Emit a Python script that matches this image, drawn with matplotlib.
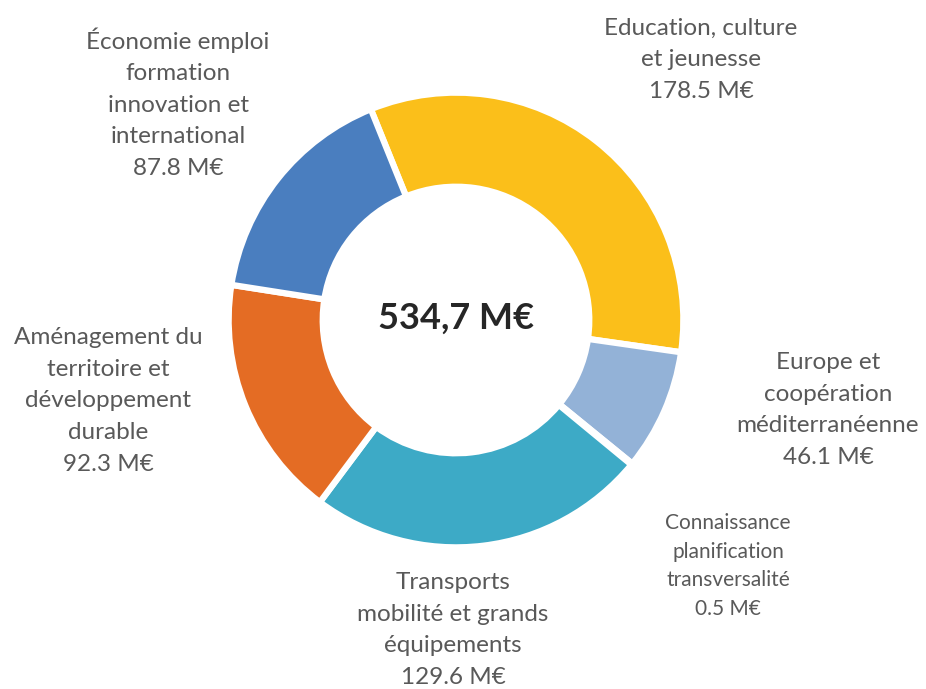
import matplotlib.pyplot as plt

plt.rcParams['font.family'] = ['Lato', 'DejaVu Sans']

# budget per domain (M€), clockwise from the top
labels = ["Education, culture\net jeunesse",
          "Europe et\ncoopération\nméditerranéenne",
          "Connaissance\nplanification\ntransversalité",
          "Transports\nmobilité et grands\néquipements",
          "Aménagement du\nterritoire et\ndéveloppement\ndurable",
          "Économie emploi\nformation\ninnovation et\ninternational"]
values = [178.5, 46.1, 0.5, 129.6, 92.3, 87.8]
colors = ["#FBBF1A", "#93B2D7", "#A5A5A5", "#3DAAC6", "#E46C24", "#4A7EBF"]
total_txt = "534,7 M€"

# label anchor positions in pixels (x, y from top)
lab_pos = [(701, 60), (828, 410), (728, 566), (453, 630), (108, 401), (178, 103)]
lab_size = [17.5, 17.5, 15, 17.5, 17.5, 17.5]
lab_space = [1.62, 1.62, 1.55, 1.62, 1.62, 1.62]

W, H = 926, 689
R = 224.0
cx, cy = 456, 320

fig = plt.figure(figsize=(W / 100, H / 100), dpi=100)
ax = fig.add_axes([0, 0, 1, 1])

ax.pie(values, colors=colors, startangle=112, counterclock=False,
       radius=1.015, wedgeprops=dict(width=0.42, edgecolor='white', linewidth=4.5))

ax.set_xlim(-cx / R, (W - cx) / R)
ax.set_ylim(-(H - cy) / R, cy / R)
ax.set_aspect('equal')
ax.axis('off')

for lab, v, (px, py), fs, ls in zip(labels, values, lab_pos, lab_size, lab_space):
    ax.text((px - cx) / R, (cy - py) / R, f"{lab}\n{v} M€", ha='center', va='center',
            fontsize=fs, color='#595959', linespacing=ls)

ax.text(0, (cy - 318) / R, total_txt, ha='center', va='center', fontsize=26,
        fontweight='bold', color='#262626')

fig.savefig("out.png", dpi=100)
